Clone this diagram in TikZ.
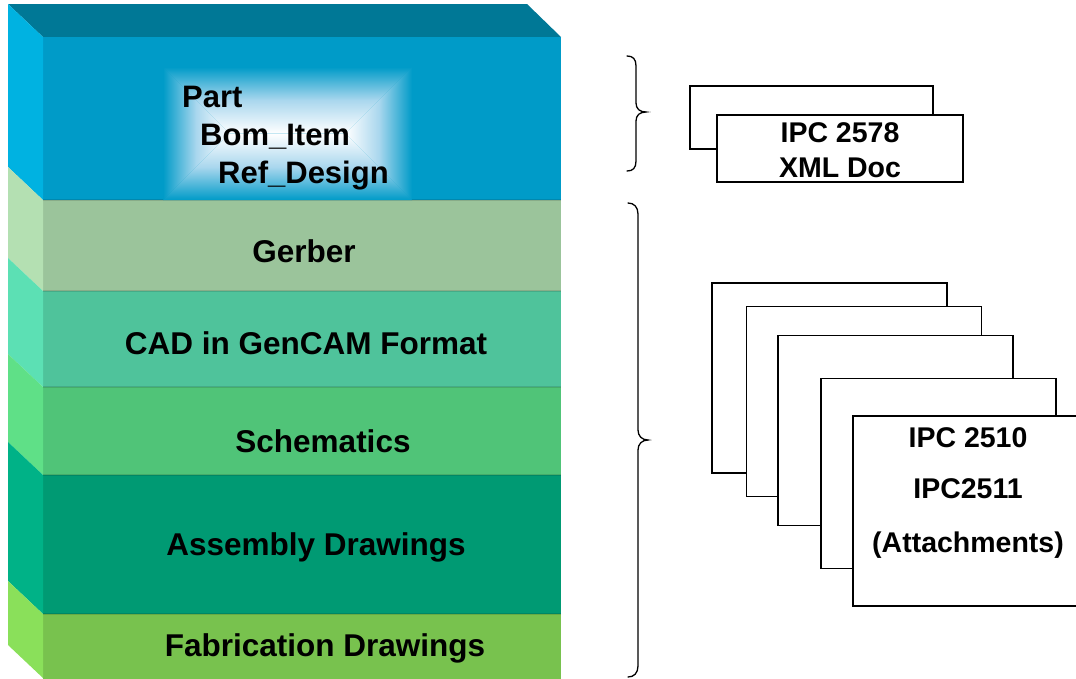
\documentclass[tikz,border=0pt]{standalone}
\usepackage{fontspec}
\setmainfont{Liberation Sans}
\definecolor{topface}{RGB}{0,120,150}
\definecolor{blueF}{RGB}{0,155,200}
\definecolor{blueS}{RGB}{0,178,225}
\definecolor{gerF}{RGB}{155,196,155}
\definecolor{gerS}{RGB}{180,224,178}
\definecolor{cadF}{RGB}{79,195,155}
\definecolor{cadS}{RGB}{92,224,180}
\definecolor{schF}{RGB}{80,196,120}
\definecolor{schS}{RGB}{95,224,135}
\definecolor{asmF}{RGB}{0,154,115}
\definecolor{asmS}{RGB}{0,178,135}
\definecolor{fabF}{RGB}{120,194,78}
\definecolor{fabS}{RGB}{138,224,90}
\definecolor{glowmid}{RGB}{170,215,238}
\begin{document}
\begin{tikzpicture}[x=1pt,y=-1pt,
  layertext/.style={inner sep=0pt,anchor=base,font=\fontsize{31.5}{36}\selectfont\bfseries},
  parttext/.style={inner sep=0pt,anchor=base west,font=\fontsize{31}{36}\selectfont\bfseries},
  doctext/.style={inner sep=0pt,anchor=base,font=\fontsize{28.5}{33}\selectfont\bfseries},
  docbox/.style={draw=black,fill=white,line width=1.3pt,inner sep=0pt},
  bracepath/.style={draw=black,line width=1.3pt,line cap=round},
  seam/.style={draw=black,draw opacity=0.12,line width=1.5pt}]
\useasboundingbox (0,0) rectangle (1076,678);
\clip (0,0) rectangle (1076,678);
\fill[white] (0,0) rectangle (1076,678);

% ---- top face
\fill[topface] (8,4) -- (527,4) -- (561,37) -- (43,37) -- cycle;

% ---- layers: front faces and side faces
\fill[blueF] (43,37) rectangle (561,200);
\fill[blueS] (8,4) -- (43,37) -- (43,200) -- (8,167) -- cycle;
\fill[gerF] (43,200) rectangle (561,291);
\fill[gerS] (8,167) -- (43,200) -- (43,291) -- (8,258) -- cycle;
\fill[cadF] (43,291) rectangle (561,387);
\fill[cadS] (8,258) -- (43,291) -- (43,387) -- (8,354) -- cycle;
\fill[schF] (43,387) rectangle (561,475);
\fill[schS] (8,354) -- (43,387) -- (43,475) -- (8,442) -- cycle;
\fill[asmF] (43,475) rectangle (561,614);
\fill[asmS] (8,442) -- (43,475) -- (43,614) -- (8,581) -- cycle;
\fill[fabF] (43,614) rectangle (561,680);
\fill[fabS] (8,581) -- (43,614) -- (43,678) -- (8,645) -- cycle;

% subtle seams between layers
\foreach \yy in {200,291,387,475,614}{
  \path[seam] (43,\yy) -- (561,\yy);
}

% ---- glow behind the part list
\shade[top color=blueF,bottom color=white,middle color=glowmid]
  (163,67) -- (412,67) -- (345.5,133.5) -- (229.5,133.5) -- cycle;
\shade[top color=white,bottom color=blueF,middle color=glowmid]
  (163,200) -- (412,200) -- (345.5,133.5) -- (229.5,133.5) -- cycle;
\shade[left color=blueF,right color=white,middle color=glowmid]
  (163,67) -- (229.5,133.5) -- (163,200) -- cycle;
\shade[left color=white,right color=blueF,middle color=glowmid]
  (412,67) -- (345.5,133.5) -- (412,200) -- cycle;

% ---- layer texts
\node[parttext] (part) at (182,107) {Part};
\node[parttext] (bom) at (200,145) {Bom\_Item};
\node[parttext] (ref) at (218,183) {Ref\_Design};
\node[layertext] (gerber) at (304,262) {Gerber};
\node[layertext] (cad) at (306,354) {CAD in GenCAM Format};
\node[layertext] (sch) at (323,452) {Schematics};
\node[layertext] (asm) at (316,555) {Assembly Drawings};
\node[layertext] (fab) at (325,656) {Fabrication Drawings};

% ---- braces
\path[bracepath] (627,56) .. controls (633,56) and (636,59) .. (636,66)
  -- (636,103) .. controls (636,109) and (640,112) .. (646,112)
  .. controls (640,112) and (636,115) .. (636,121)
  -- (636,161) .. controls (636,168) and (633,171) .. (627,171);
\path[bracepath] (628,203) .. controls (634,203) and (638,207) .. (638,214)
  -- (638,430) .. controls (638,436) and (642,440) .. (648,440)
  .. controls (642,440) and (638,444) .. (638,450)
  -- (638,666) .. controls (638,673) and (634,677) .. (628,677);

% ---- XML document boxes
\node[docbox,minimum width=243pt,minimum height=63pt] (xmlback) at (811.5,117.5) {};
\node[docbox,minimum width=246pt,minimum height=67pt] (xmlfront) at (840,148.5) {};
\node[doctext] (xml1) at (840,142) {IPC 2578};
\node[doctext] (xml2) at (840,177) {XML Doc};

% ---- attachment document boxes
\node[docbox,minimum width=235pt,minimum height=190pt] (d1) at (829.5,378) {};
\node[docbox,minimum width=235pt,minimum height=190pt] (d2) at (864,401.5) {};
\node[docbox,minimum width=235pt,minimum height=190pt] (d3) at (895.5,430.5) {};
\node[docbox,minimum width=235pt,minimum height=190pt] (d4) at (938.5,473.5) {};
\node[docbox,minimum width=235pt,minimum height=190pt] (d5) at (970.5,511) {};
\node[doctext] (ipc1) at (968,447) {IPC 2510};
\node[doctext] (ipc2) at (968,498) {IPC2511};
\node[doctext] (ipc3) at (968,552) {(Attachments)};
\end{tikzpicture}
\end{document}
